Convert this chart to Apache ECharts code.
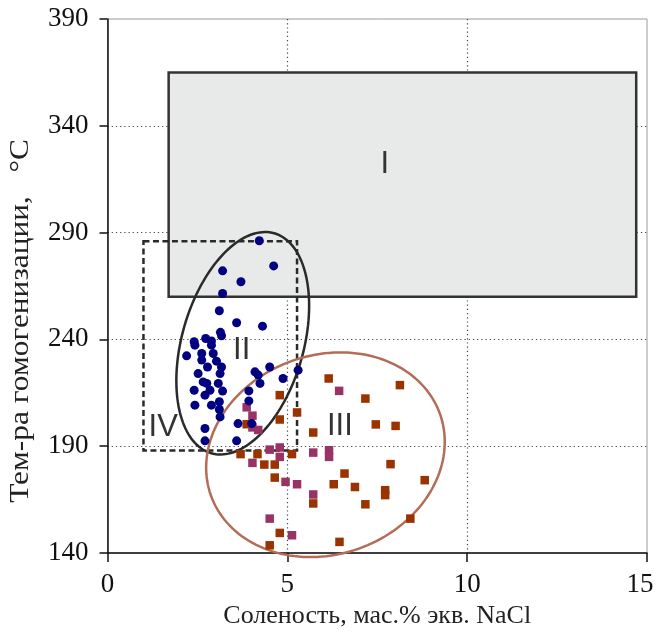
<!DOCTYPE html>
<html>
<head>
<meta charset="utf-8">
<script src="https://cdn.jsdelivr.net/npm/echarts@6/dist/echarts.min.js"></script>
<style>
  html, body { margin: 0; padding: 0; background: #fff; }
  #chart { width: 656px; height: 632px; }
</style>
</head>
<body>
<div id="chart"></div>
<script>
// axis ticks
var xTicks = [0, 5, 10, 15];
var yTicks = [140, 190, 240, 290, 340, 390];

// inclusions: [salinity, Th]
var blueDots = [
  [4.22, 286.2], [4.62, 274.4], [3.20, 272.1], [3.71, 267.0], [3.20, 261.5],
  [3.11, 253.4], [3.59, 247.8], [4.31, 246.2], [3.14, 243.3], [3.17, 241.7],
  [2.73, 240.4], [2.89, 239.3], [2.41, 238.9], [2.43, 237.3], [2.20, 232.3],
  [2.62, 233.4], [2.94, 233.4], [3.03, 229.8], [3.17, 227.1], [2.62, 230.3],
  [2.78, 227.1], [2.52, 224.0], [3.13, 224.0], [2.66, 220.1], [2.76, 219.4],
  [3.08, 219.4], [2.41, 216.2], [2.85, 216.2], [3.20, 215.8], [2.71, 213.9],
  [4.10, 224.8], [4.19, 223.3], [4.51, 227.1], [4.88, 221.7], [4.24, 219.4],
  [3.93, 215.9], [3.93, 211.2], [5.30, 225.6], [2.43, 209.2], [2.89, 209.2],
  [3.11, 210.8], [3.11, 207.2], [3.13, 203.7], [2.71, 198.3], [3.63, 200.6],
  [4.01, 200.6], [2.71, 192.5], [3.59, 192.5], [2.89, 237.3]
];
var brownSquares = [
  [6.15, 221.7], [8.13, 218.6], [7.17, 212.3], [4.79, 213.9], [5.27, 205.8],
  [4.79, 202.5], [5.72, 196.4], [7.46, 200.2], [8.01, 199.5], [3.70, 186.3],
  [4.17, 186.3], [5.13, 186.3], [4.36, 181.4], [4.65, 181.4], [7.87, 181.6],
  [6.59, 177.2], [4.65, 175.3], [6.29, 172.2], [6.88, 170.9], [8.82, 174.1],
  [7.72, 169.4], [7.72, 167.1], [5.72, 163.2], [7.17, 162.8], [8.42, 156.1],
  [4.79, 149.4], [4.51, 143.6], [6.45, 145.2], [3.87, 200.3]
];
var magentaSquares = [
  [6.44, 215.9], [3.87, 208.2], [4.03, 204.3], [4.03, 198.8], [4.19, 197.6],
  [4.51, 188.4], [4.79, 189.4], [4.79, 185.0], [4.03, 182.2], [5.72, 187.0],
  [6.16, 188.1], [6.16, 185.0], [4.95, 173.3], [5.27, 172.2], [5.72, 167.4],
  [4.51, 156.1], [5.13, 148.3]
];

// fields: [x1, y1, x2, y2]
var fieldI = [[1.7, 260, 14.7, 365]];
var fieldIV = [[1.0, 188, 5.27, 286]];
// ellipses: [cx, cy, semi-major, semi-minor (in x units), angle deg]
var ellipseII = [[3.76, 238.2, 3.18, 1.69, 74]];
var ellipseIII = [[6.06, 186.0, 3.38, 2.77, 19.6]];

// labels: [x, y, text]
var fieldLabels = [
  [7.71, 322.1, 'I'],
  [3.73, 235.0, 'II'],
  [6.46, 199.4, 'III'],
  [1.55, 199.0, 'IV']
];

var chart = echarts.init(document.getElementById('chart'));

function rectItem(fill, stroke, dash) {
  return function (params, api) {
    var p1 = api.coord([api.value(0), api.value(1)]);
    var p2 = api.coord([api.value(2), api.value(3)]);
    return {
      type: 'rect',
      shape: {
        x: Math.min(p1[0], p2[0]), y: Math.min(p1[1], p2[1]),
        width: Math.abs(p2[0] - p1[0]), height: Math.abs(p2[1] - p1[1])
      },
      style: { fill: fill, stroke: stroke, lineWidth: 2.5, lineDash: dash }
    };
  };
}

function ellipseItem(stroke) {
  return function (params, api) {
    var c = api.coord([api.value(0), api.value(1)]);
    var unit = api.size([1, 0])[0];
    var a = api.value(2) * unit, b = api.value(3) * unit;
    var rot = api.value(4) * Math.PI / 180;
    var pts = [];
    for (var k = 0; k < 160; k++) {
      var t = k / 160 * 2 * Math.PI;
      var ex = a * Math.cos(t), ey = b * Math.sin(t);
      pts.push([
        c[0] + ex * Math.cos(rot) - ey * Math.sin(rot),
        c[1] - (ex * Math.sin(rot) + ey * Math.cos(rot))
      ]);
    }
    return {
      type: 'polygon',
      shape: { points: pts },
      style: { fill: 'transparent', stroke: stroke, lineWidth: 2.5 }
    };
  };
}

// dotted grid lines only inside the frame (not on the borders)
var dotted = function (n) {
  var c = [];
  for (var i = 0; i < n; i++) c.push(i === 0 || i === n - 1 ? 'rgba(0,0,0,0)' : '#444');
  return c;
};

var labelFont = { fontFamily: 'Liberation Serif', fontSize: 27, color: '#111' };

var option = {
  animation: false,
  grid: {
    left: 107.5, right: 9, top: 19, bottom: 79,
    outerBoundsMode: 'none',
    containLabel: false,
    show: true, borderColor: '#9a9a9a', borderWidth: 1
  },
  xAxis: {
    type: 'value', min: xTicks[0], max: xTicks[xTicks.length - 1], interval: 5,
    name: 'Соленость, мас.% экв. NaCl',
    nameLocation: 'middle', nameGap: 49,
    nameTextStyle: { fontFamily: 'Liberation Serif', fontSize: 26, color: '#222' },
    axisLine: { lineStyle: { color: '#111', width: 1.5 } },
    axisTick: { length: 9, lineStyle: { color: '#111', width: 1.5 } },
    axisLabel: Object.assign({
      margin: 18,
      // last label is pulled in so it stays inside the picture
      formatter: function (v) {
        return v === xTicks[xTicks.length - 1] ? '{last|' + v + '}' : String(v);
      },
      rich: { last: { fontFamily: 'Liberation Serif', fontSize: 27, color: '#111', padding: [0, 14, 0, 0] } }
    }, labelFont),
    splitLine: { show: true, lineStyle: { color: dotted(xTicks.length), type: [1.2, 3], width: 1.2 } }
  },
  yAxis: {
    type: 'value', min: yTicks[0], max: yTicks[yTicks.length - 1], interval: 50,
    axisLine: { show: true, lineStyle: { color: '#111', width: 1.5 } },
    axisTick: { show: true, length: 8, lineStyle: { color: '#111', width: 1.5 } },
    axisLabel: Object.assign({ margin: 19 }, labelFont),
    splitLine: { show: true, lineStyle: { color: dotted(yTicks.length), type: [1.2, 3], width: 1.2 } }
  },
  graphic: [{
    type: 'text',
    x: 21, y: 321,
    rotation: Math.PI / 2,
    scaleX: 1.12,
    style: {
      text: 'Тем-ра гомогенизации,   °С',
      fontFamily: 'Liberation Serif', fontSize: 28, fill: '#222',
      align: 'center', verticalAlign: 'middle'
    }
  }],
  series: [
    {
      type: 'custom', silent: true, z: 1,
      renderItem: rectItem('#e8eaea', '#333', null),
      encode: { x: [0, 2], y: [1, 3] },
      data: fieldI
    },
    {
      type: 'custom', silent: true, z: 2,
      renderItem: rectItem('transparent', '#2a2a2a', [6, 3.5]),
      encode: { x: [0, 2], y: [1, 3] },
      data: fieldIV
    },
    {
      type: 'custom', silent: true, z: 2,
      renderItem: ellipseItem('#2a2a2a'),
      encode: { x: 0, y: 1 },
      data: ellipseII
    },
    {
      type: 'custom', silent: true, z: 2,
      renderItem: ellipseItem('#b36d57'),
      encode: { x: 0, y: 1 },
      data: ellipseIII
    },
    {
      type: 'custom', silent: true, z: 3,
      renderItem: function (params, api) {
        var p = api.coord([api.value(0), api.value(1)]);
        return {
          type: 'text',
          x: p[0], y: p[1],
          style: {
            text: fieldLabels[params.dataIndex][2],
            fontFamily: 'Liberation Sans', fontSize: 31, fill: '#333',
            align: 'center', verticalAlign: 'middle'
          }
        };
      },
      encode: { x: 0, y: 1 },
      data: fieldLabels
    },
    {
      type: 'scatter', z: 4, symbol: 'rect', symbolSize: 8.5,
      itemStyle: { color: '#993300', opacity: 1 },
      data: brownSquares
    },
    {
      type: 'scatter', z: 5, symbol: 'rect', symbolSize: 8.5,
      itemStyle: { color: '#993366', opacity: 1 },
      data: magentaSquares
    },
    {
      type: 'scatter', z: 6, symbol: 'circle', symbolSize: 9,
      itemStyle: { color: '#000080', opacity: 1 },
      data: blueDots
    }
  ]
};

chart.setOption(option);
</script>
</body>
</html>
